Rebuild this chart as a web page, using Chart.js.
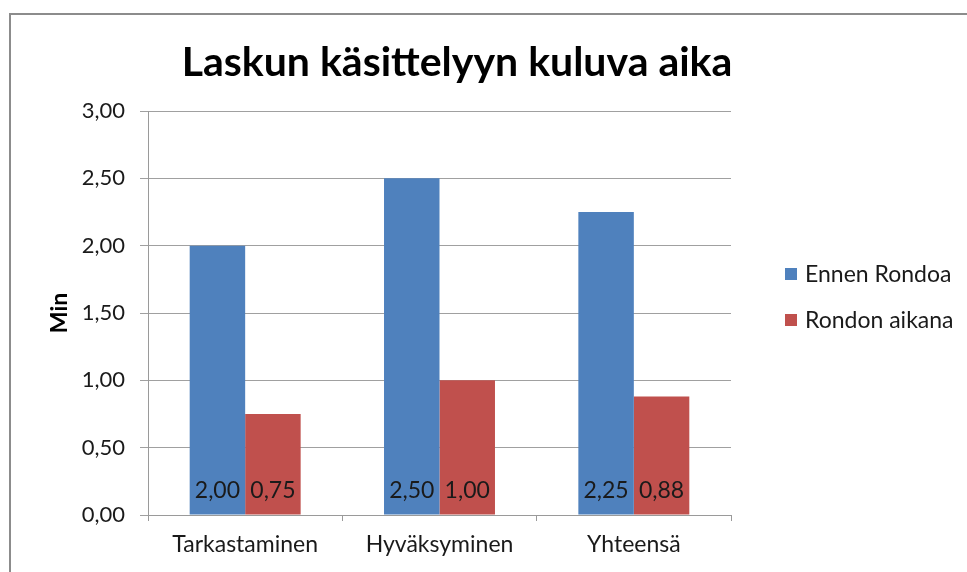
<!DOCTYPE html>
<html>
<head>
<meta charset="utf-8">
<script src="https://cdn.jsdelivr.net/npm/chart.js@4.4.1/dist/chart.umd.min.js"></script>
<style>
  html, body { margin: 0; padding: 0; background: #ffffff; }
  #wrap { position: relative; width: 967px; height: 572px; }
</style>
</head>
<body>
<div id="wrap"><canvas id="c" width="967" height="572"></canvas></div>
<script>
const chartTitle = "Laskun käsittelyyn kuluva aika";
const yAxisTitle = "Min";
const categories = ["Tarkastaminen", "Hyväksyminen", "Yhteensä"];
const seriesNames = ["Ennen Rondoa", "Rondon aikana"];
const ennenRondoa = [2.00, 2.50, 2.25];
const rondonAikana = [0.75, 1.00, 0.88];
const seriesColors = ["#4F81BD", "#C0504D"];
const yMin = 0, yMax = 3, yStep = 0.5;

const FONT = "Lato, 'Open Sans', 'Liberation Sans', sans-serif";
const fmt = v => v.toFixed(2).replace(".", ",");

const framePlugin = {
  id: "frame",
  beforeDraw(chart) {
    const ctx = chart.ctx;
    ctx.save();
    ctx.strokeStyle = "#8c8c8c";
    ctx.lineWidth = 2;
    ctx.strokeRect(10, 14, 2000, 2000);
    ctx.restore();
  }
};

const titlePlugin = {
  id: "customTitle",
  afterDraw(chart) {
    const ctx = chart.ctx;
    ctx.save();
    ctx.font = "bold 41px " + FONT;
    ctx.fillStyle = "#000000";
    ctx.textAlign = "center";
    ctx.textBaseline = "alphabetic";
    ctx.fillText(chartTitle, 457, 76);
    ctx.restore();
  }
};

const barLabelPlugin = {
  id: "barLabels",
  afterDatasetsDraw(chart) {
    const ctx = chart.ctx;
    ctx.save();
    ctx.font = "23px " + FONT;
    ctx.fillStyle = "#1a1a1a";
    ctx.textAlign = "center";
    ctx.textBaseline = "middle";
    chart.data.datasets.forEach((ds, di) => {
      const meta = chart.getDatasetMeta(di);
      meta.data.forEach((bar, i) => {
        ctx.fillText(fmt(ds.data[i]), bar.x, bar.base - 24);
      });
    });
    ctx.restore();
  }
};

const legendPlugin = {
  id: "customLegend",
  afterDraw(chart) {
    const ctx = chart.ctx;
    ctx.save();
    ctx.font = "23px " + FONT;
    ctx.textAlign = "left";
    ctx.textBaseline = "middle";
    chart.data.datasets.forEach((ds, i) => {
      const cy = 274 + i * 46;
      ctx.fillStyle = ds.backgroundColor;
      ctx.fillRect(785, cy - 6, 12, 12);
      ctx.fillStyle = "#1a1a1a";
      ctx.fillText(ds.label, 805, cy + 1);
    });
    ctx.restore();
  }
};

new Chart(document.getElementById("c"), {
  type: "bar",
  data: {
    labels: categories,
    datasets: [
      { label: seriesNames[0], data: ennenRondoa, backgroundColor: seriesColors[0] },
      { label: seriesNames[1], data: rondonAikana, backgroundColor: seriesColors[1] }
    ]
  },
  options: {
    responsive: false,
    animation: false,
    devicePixelRatio: 1,
    layout: { padding: { left: 46, top: 111, right: 236, bottom: 0 } },
    datasets: { bar: { categoryPercentage: 0.571, barPercentage: 1.0 } },
    plugins: {
      legend: { display: false },
      title: { display: false },
      tooltip: { enabled: false }
    },
    scales: {
      x: {
        grid: {
          offset: true,
          drawOnChartArea: false,
          drawTicks: true,
          tickLength: 6,
          color: "#9a9a9a",
          lineWidth: 1
        },
        border: { display: true, color: "#9a9a9a", width: 1 },
        ticks: {
          font: { family: FONT, size: 23 },
          color: "#1a1a1a",
          padding: 10,
          maxRotation: 0
        },
        afterFit(scale) { scale.height = 57; }
      },
      y: {
        min: yMin,
        max: yMax,
        ticks: {
          stepSize: yStep,
          font: { family: FONT, size: 22 },
          color: "#1a1a1a",
          padding: 15,
          callback: v => fmt(v)
        },
        grid: {
          color: "#a0a0a0",
          lineWidth: 1,
          drawTicks: true,
          tickLength: 8
        },
        border: { display: true, color: "#9a9a9a", width: 1 },
        title: {
          display: true,
          text: yAxisTitle,
          font: { family: FONT, size: 23, weight: "bold" },
          color: "#000000",
          padding: 0
        },
        afterFit(scale) { scale.width = 102; }
      }
    }
  },
  plugins: [framePlugin, titlePlugin, barLabelPlugin, legendPlugin]
});
</script>
</body>
</html>
